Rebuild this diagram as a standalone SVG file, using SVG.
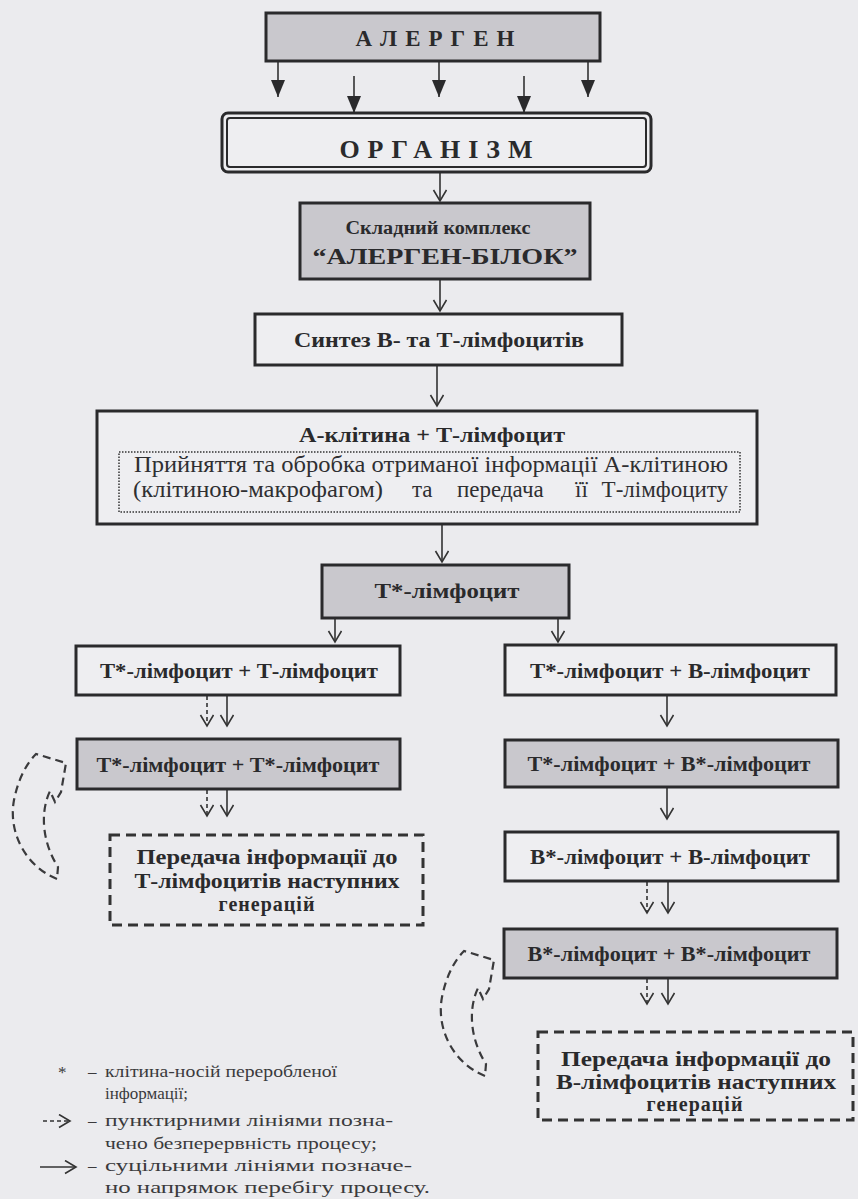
<svg xmlns="http://www.w3.org/2000/svg" width="858" height="1199" viewBox="0 0 858 1199">
<style>
.bg{fill:#ebebee}
.box{fill:#eeeef1;stroke:#2a2a2c;stroke-width:3}
.grey{fill:#c9c8cd}
.lbl{font-family:"Liberation Serif","DejaVu Serif",serif;font-weight:bold;fill:#2a2a2c;text-anchor:middle}
.reg{font-family:"Liberation Serif","DejaVu Serif",serif;fill:#2f2f31}
.conn{stroke:#333;stroke-width:1.6;fill:none}
.dash{stroke-dasharray:4 3}
.dbox{fill:none;stroke:#333;stroke-width:3;stroke-dasharray:10 6}
.curve{fill:none;stroke:#3a3a3c;stroke-width:2.2;stroke-dasharray:8 5}
.leg{font-family:"Liberation Serif","DejaVu Serif",serif;font-size:17px;fill:#3a3a3c}
</style>
<defs>
<marker id="v" markerUnits="userSpaceOnUse" markerWidth="16" markerHeight="16" refX="12" refY="7" orient="auto"><path d="M1,0.5 L12,7 L1,13.5" fill="none" stroke="#333" stroke-width="1.6"/></marker>
<marker id="tri" markerUnits="userSpaceOnUse" markerWidth="20" markerHeight="16" refX="17" refY="7" orient="auto"><path d="M0,0 L17,7 L0,14 Z" fill="#2a2a2c"/></marker>
<path id="loop" d="M57,879 C25,866 8,832 14,800 C18,780 26,764 36,754 L66,763 L61,792 L55,802 L50,791 C40,812 42,842 58,867 Z"/>
</defs>
<rect class="bg" x="0" y="0" width="858" height="1199"/>

<g id="connectors">
<line class="conn" x1="278" y1="61" x2="278" y2="97" marker-end="url(#tri)"/>
<line class="conn" x1="354" y1="76" x2="354" y2="113" marker-end="url(#tri)"/>
<line class="conn" x1="439" y1="61" x2="439" y2="97" marker-end="url(#tri)"/>
<line class="conn" x1="524" y1="76" x2="524" y2="113" marker-end="url(#tri)"/>
<line class="conn" x1="588" y1="61" x2="588" y2="97" marker-end="url(#tri)"/>
<line class="conn" x1="440" y1="172" x2="440" y2="201" marker-end="url(#v)"/>
<line class="conn" x1="440" y1="279" x2="440" y2="311" marker-end="url(#v)"/>
<line class="conn" x1="437" y1="365" x2="437" y2="406" marker-end="url(#v)"/>
<line class="conn" x1="442" y1="524" x2="442" y2="562" marker-end="url(#v)"/>
<line class="conn" x1="335" y1="618" x2="335" y2="642" marker-end="url(#v)"/>
<line class="conn" x1="558" y1="618" x2="558" y2="642" marker-end="url(#v)"/>
<line class="conn dash" x1="207" y1="696" x2="207" y2="726" marker-end="url(#v)"/>
<line class="conn" x1="227" y1="696" x2="227" y2="726" marker-end="url(#v)"/>
<line class="conn dash" x1="207" y1="790" x2="207" y2="816" marker-end="url(#v)"/>
<line class="conn" x1="227" y1="790" x2="227" y2="816" marker-end="url(#v)"/>
<line class="conn" x1="667" y1="696" x2="667" y2="726" marker-end="url(#v)"/>
<line class="conn" x1="667" y1="788" x2="667" y2="819" marker-end="url(#v)"/>
<line class="conn dash" x1="647" y1="882" x2="647" y2="913" marker-end="url(#v)"/>
<line class="conn" x1="668" y1="882" x2="668" y2="913" marker-end="url(#v)"/>
<line class="conn dash" x1="647" y1="979" x2="647" y2="1004" marker-end="url(#v)"/>
<line class="conn" x1="668" y1="979" x2="668" y2="1004" marker-end="url(#v)"/>
<use href="#loop" class="curve"/>
<use href="#loop" class="curve" transform="translate(428,197)"/>
</g>

<g id="alergen">
<rect class="box grey" x="266" y="13" width="334" height="48"/>
<text class="lbl" x="439" y="46" font-size="23" letter-spacing="8">АЛЕРГЕН</text>
</g>
<g id="organizm">
<rect x="222" y="113" width="429" height="59" rx="6" fill="#eeeef1" stroke="#2a2a2c" stroke-width="3"/>
<rect x="227" y="118" width="419" height="49" rx="3" fill="none" stroke="#2a2a2c" stroke-width="2"/>
<text class="lbl" x="440" y="158" font-size="26" letter-spacing="8">ОРГАНІЗМ</text>
</g>
<g id="complex">
<rect class="box grey" x="300" y="203" width="290" height="76"/>
<text class="lbl" x="438" y="234" font-size="18" textLength="185" lengthAdjust="spacingAndGlyphs">Складний комплекс</text>
<text class="lbl" x="445" y="264" font-size="24" textLength="265" lengthAdjust="spacingAndGlyphs">“АЛЕРГЕН-БІЛОК”</text>
</g>
<g id="synthesis">
<rect class="box" x="255" y="314" width="367" height="51"/>
<text class="lbl" x="439" y="347" font-size="21" textLength="290" lengthAdjust="spacingAndGlyphs">Синтез В- та Т-лімфоцитів</text>
</g>
<g id="acell">
<rect class="box" x="97" y="411" width="660" height="113"/>
<text class="lbl" x="432" y="442" font-size="22" textLength="266" lengthAdjust="spacingAndGlyphs">А-клітина  + Т-лімфоцит</text>
<rect x="119" y="452" width="621" height="60" fill="none" stroke="#333" stroke-width="1.5" stroke-dasharray="1.5 1.5"/>
<text class="reg" x="134" y="472" font-size="23" textLength="594" lengthAdjust="spacingAndGlyphs">Прийняття та обробка отриманої інформації А-клітиною</text>
<text class="reg" font-size="23" y="497"><tspan x="133" textLength="250" lengthAdjust="spacingAndGlyphs">(клітиною-макрофагом)</tspan><tspan x="412">та</tspan><tspan x="457">передача</tspan><tspan x="575">її</tspan><tspan x="728" text-anchor="end">Т-лімфоциту</tspan></text>
</g>
<g id="tstar">
<rect class="box grey" x="322" y="565" width="247" height="53"/>
<text class="lbl" x="447" y="598" font-size="21" textLength="145" lengthAdjust="spacingAndGlyphs">Т*-лімфоцит</text>
</g>
<g id="l1">
<rect class="box" x="76" y="646" width="324" height="49"/>
<text class="lbl" x="239" y="678" font-size="22" textLength="278" lengthAdjust="spacingAndGlyphs">Т*-лімфоцит + Т-лімфоцит</text>
</g>
<g id="l2">
<rect class="box grey" x="77" y="739" width="323" height="50"/>
<text class="lbl" x="238" y="772" font-size="22" textLength="283" lengthAdjust="spacingAndGlyphs">Т*-лімфоцит + Т*-лімфоцит</text>
</g>
<g id="l3">
<rect class="dbox" x="110" y="835" width="313" height="90"/>
<text class="lbl" x="267" y="864" font-size="20" textLength="261" lengthAdjust="spacingAndGlyphs" fill="#3a3a3c">Передача інформації до</text>
<text class="lbl" x="267" y="888" font-size="20" textLength="265" lengthAdjust="spacingAndGlyphs" fill="#3a3a3c">Т-лімфоцитів наступних</text>
<text class="lbl" x="267" y="911" font-size="20" letter-spacing="1" fill="#3a3a3c">генерацій</text>
</g>
<g id="r1">
<rect class="box" x="505" y="645" width="331" height="50"/>
<text class="lbl" x="670" y="678" font-size="22" textLength="280" lengthAdjust="spacingAndGlyphs">Т*-лімфоцит + В-лімфоцит</text>
</g>
<g id="r2">
<rect class="box grey" x="505" y="740" width="333" height="47"/>
<text class="lbl" x="669" y="771" font-size="22" textLength="283" lengthAdjust="spacingAndGlyphs">Т*-лімфоцит + В*-лімфоцит</text>
</g>
<g id="r3">
<rect class="box" x="505" y="832" width="333" height="49"/>
<text class="lbl" x="670" y="864" font-size="22" textLength="280" lengthAdjust="spacingAndGlyphs">В*-лімфоцит + В-лімфоцит</text>
</g>
<g id="r4">
<rect class="box grey" x="504" y="929" width="333" height="49"/>
<text class="lbl" x="669" y="961" font-size="22" textLength="283" lengthAdjust="spacingAndGlyphs">В*-лімфоцит + В*-лімфоцит</text>
</g>
<g id="r5">
<rect class="dbox" x="538" y="1032" width="315" height="88"/>
<text class="lbl" x="696" y="1066" font-size="20" textLength="270" lengthAdjust="spacingAndGlyphs" fill="#3a3a3c">Передача інформації до</text>
<text class="lbl" x="696" y="1089" font-size="20" textLength="280" lengthAdjust="spacingAndGlyphs" fill="#3a3a3c">В-лімфоцитів наступних</text>
<text class="lbl" x="695" y="1111" font-size="20" letter-spacing="1" fill="#3a3a3c">генерацій</text>
</g>

<g id="legend">
<text class="leg" x="58" y="1078" font-size="18">*</text>
<text class="leg" x="88" y="1077">–</text>
<text class="leg" x="105" y="1077" textLength="232" lengthAdjust="spacingAndGlyphs">клітина-носій переробленої</text>
<text class="leg" x="105" y="1099">інформації;</text>
<line class="conn dash" x1="43" y1="1121" x2="70" y2="1121" stroke-width="1.8" marker-end="url(#v)"/>
<text class="leg" x="88" y="1126">–</text>
<text class="leg" x="105" y="1126" textLength="288" lengthAdjust="spacingAndGlyphs">пунктирними лініями  позна-</text>
<text class="leg" x="105" y="1149" textLength="272" lengthAdjust="spacingAndGlyphs" fill="#222">чено безперервність процесу;</text>
<line class="conn" x1="40" y1="1167" x2="76" y2="1167" stroke="#111" stroke-width="2" marker-end="url(#v)"/>
<text class="leg" x="88" y="1171" fill="#222">–</text>
<text class="leg" x="105" y="1171" textLength="307" lengthAdjust="spacingAndGlyphs" fill="#222">суцільними лініями позначе-</text>
<text class="leg" x="105" y="1193" textLength="325" lengthAdjust="spacingAndGlyphs" fill="#222">но напрямок перебігу процесу.</text>
</g>
</svg>
